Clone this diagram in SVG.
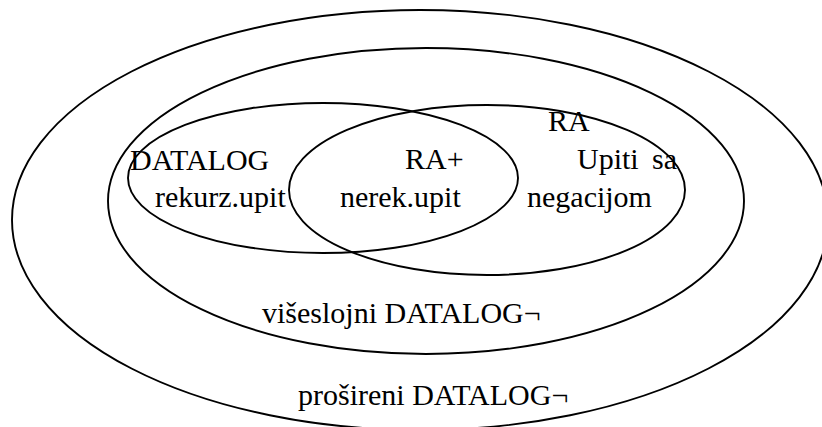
<svg xmlns="http://www.w3.org/2000/svg" width="822" height="427" viewBox="0 0 822 427">
  <style>
    .set { fill: none; stroke: #000; stroke-width: 1.9; }
    .lbl { font-family: 'Liberation Serif', Times, 'DejaVu Serif', serif; font-size: 30px; fill: #000; }
  </style>
  <rect width="822" height="427" fill="#fff"/>

  <!-- extended DATALOG with negation -->
  <g id="prosireni">
    <ellipse class="set" cx="420" cy="220" rx="408" ry="210"/>
    <text class="lbl" x="298" y="405">prošireni DATALOG¬</text>
  </g>

  <!-- stratified DATALOG with negation -->
  <g id="viseslojni">
    <ellipse class="set" cx="426" cy="201" rx="318" ry="153"/>
    <text class="lbl" x="262" y="323">višeslojni DATALOG¬</text>
  </g>

  <!-- DATALOG: recursive queries -->
  <g id="datalog">
    <ellipse class="set" cx="323" cy="178" rx="195" ry="75"/>
    <text class="lbl" x="130" y="170">DATALOG</text>
    <text class="lbl" x="155" y="207">rekurz.upit</text>
  </g>

  <!-- relational algebra -->
  <g id="ra">
    <ellipse class="set" cx="487" cy="190" rx="198" ry="85"/>
    <text class="lbl" x="548" y="131">RA</text>
    <text class="lbl" x="577" y="169">Upiti<tspan x="652">sa</tspan></text>
    <text class="lbl" x="527" y="207">negacijom</text>
  </g>

  <!-- positive RA: non-recursive queries (intersection) -->
  <g id="ra-plus">
    <text class="lbl" x="405" y="169">RA+</text>
    <text class="lbl" x="340" y="207">nerek.upit</text>
  </g>

  <g id="connectors"/>
</svg>
